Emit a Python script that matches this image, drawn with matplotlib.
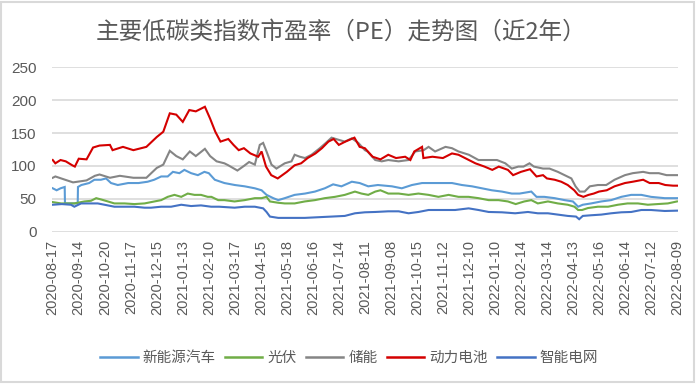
import matplotlib
matplotlib.use("Agg")
import matplotlib.pyplot as plt
from matplotlib.patches import Rectangle

plt.rcParams["font.family"] = ["Noto Sans CJK SC", "DejaVu Sans"]

TEXT = "#595959"
GRID = "#d9d9d9"

# x positions are in tick units (one tick = 20 trading days)
dates = ["2020-08-17", "2020-09-14", "2020-10-20", "2020-11-17", "2020-12-15",
         "2021-01-13", "2021-02-10", "2021-03-17", "2021-04-15", "2021-05-18",
         "2021-06-16", "2021-07-14", "2021-08-11", "2021-09-08", "2021-10-15",
         "2021-11-12", "2021-12-10", "2022-01-10", "2022-02-14", "2022-03-14",
         "2022-04-13", "2022-05-16", "2022-06-14", "2022-07-12", "2022-08-09"]

ev_t = [0, 0.15, 0.3, 0.46, 0.47, 0.7, 0.96, 0.97, 1.1, 1.4, 1.6, 1.85, 2.05, 2.24,
        2.5, 2.9, 3.3, 3.65, 3.9, 4.17, 4.42, 4.62, 4.87, 5.06, 5.32, 5.58, 5.83, 6.0,
        6.23, 6.6, 7.0, 7.38, 7.77, 8.03, 8.22, 8.48, 8.67, 8.92, 9.3, 9.7, 10.08,
        10.46, 10.78, 11.1, 11.5, 11.8, 12.13, 12.5, 13.04, 13.42, 13.81, 14.2, 14.6,
        15.0, 15.35, 15.73, 16.12, 16.5, 16.88, 17.27, 17.65, 17.95, 18.4, 18.6, 18.9,
        19.3, 19.68, 20.0, 20.2, 20.38, 20.7, 21.09, 21.47, 21.86, 22.24, 22.63, 23.0,
        23.53, 24.0]
ev_v = [66, 63, 66, 68, 43, 43, 43, 68, 71, 74, 79, 79, 81, 74,
        71, 74, 74, 76, 79, 84, 84, 91, 89, 94, 89, 86, 91, 89,
        79, 74, 71, 69, 66, 63, 56, 51, 48, 51, 56, 58, 61,
        66, 72, 69, 76, 74, 69, 71, 69, 66, 71, 74, 74,
        74, 74, 71, 69, 66, 63, 61, 58, 58, 61, 53, 53,
        51, 48, 46, 38, 41, 43, 46, 48, 53, 56, 56, 53,
        51, 51]

pv_t = [0, 0.32, 0.83, 1.22, 1.47, 1.67, 1.86, 2.12, 2.37, 2.76, 3.14, 3.53, 3.91,
        4.17, 4.42, 4.68, 4.94, 5.19, 5.45, 5.7, 5.96, 6.1, 6.36, 6.6, 6.99, 7.38,
        7.77, 8.03, 8.22, 8.35, 8.67, 8.92, 9.3, 9.69, 10.08, 10.46, 10.85, 11.23,
        11.62, 11.87, 12.13, 12.4, 12.6, 12.9, 13.3, 13.68, 14.06, 14.45, 14.83,
        15.22, 15.6, 15.99, 16.37, 16.76, 17.14, 17.5, 17.8, 18.13, 18.4, 18.65,
        19.04, 19.42, 19.8, 20.06, 20.2, 20.35, 20.58, 20.96, 21.35, 21.73, 22.1,
        22.5, 22.88, 23.25, 23.65, 24.0]
pv_v = [45, 43, 43, 46, 47, 51, 49, 46, 43, 43, 42, 43, 46,
        48, 53, 56, 53, 58, 56, 56, 53, 53, 48, 48, 46, 48,
        51, 51, 53, 46, 44, 43, 43, 46, 48, 51, 53, 56,
        61, 58, 56, 61, 63, 58, 58, 56, 58, 56, 53,
        56, 53, 53, 51, 48, 48, 46, 42, 46, 48, 43,
        46, 43, 41, 38, 33, 33, 36, 38, 38, 41, 43,
        43, 41, 42, 43, 46]

es_t = [0, 0.1, 0.4, 0.78, 1.3, 1.62, 1.8, 2.2, 2.58, 3.1, 3.6, 4.0, 4.25, 4.5, 4.75,
        5.0, 5.27, 5.5, 5.85, 6.05, 6.3, 6.6, 6.75, 7.1, 7.35, 7.55, 7.77, 7.96, 8.09,
        8.22, 8.41, 8.6, 8.92, 9.18, 9.3, 9.5, 9.7, 9.95, 10.27, 10.5, 10.72, 10.97,
        11.23, 11.5, 11.75, 12.0, 12.1, 12.4, 12.65, 12.9, 13.3, 13.68, 13.94, 14.26,
        14.45, 14.7, 15.1, 15.35, 15.6, 16.0, 16.37, 16.76, 17.08, 17.4, 17.65, 17.9,
        18.1, 18.33, 18.5, 18.85, 19.1, 19.42, 19.68, 19.94, 20.1, 20.26, 20.45, 20.65,
        20.96, 21.28, 21.6, 22.0, 22.3, 22.7, 22.95, 23.3, 23.6, 24.0]
es_v = [82, 84, 80, 75, 78, 85, 87, 82, 85, 82, 82, 97, 102, 123, 115,
        110, 122, 115, 126, 115, 107, 104, 101, 93, 100, 106, 102, 132, 135,
        122, 102, 96, 104, 107, 117, 114, 112, 117, 127, 135, 143, 140,
        137, 142, 135, 124, 122, 109, 107, 109, 107, 109, 122, 124,
        129, 122, 129, 127, 122, 117, 109, 109, 109, 104, 96, 99,
        99, 104, 99, 96, 96, 91, 86, 81, 69, 61, 61, 69,
        71, 71, 79, 86, 89, 91, 89, 89, 86, 86]

bat_t = [0, 0.1, 0.3, 0.5, 0.75, 0.85, 1.0, 1.3, 1.55, 1.8, 2.2, 2.3, 2.7, 3.1, 3.6,
         4.0, 4.25, 4.5, 4.75, 5.0, 5.25, 5.5, 5.85, 6.05, 6.25, 6.45, 6.75, 6.95,
         7.15, 7.35, 7.6, 7.9, 8.03, 8.2, 8.4, 8.65, 9.0, 9.3, 9.55, 9.8, 10.1, 10.35,
         10.6, 10.8, 11.0, 11.25, 11.6, 11.8, 12.0, 12.3, 12.6, 12.9, 13.2, 13.55,
         13.75, 13.9, 14.2, 14.25, 14.6, 15.0, 15.35, 15.6, 15.85, 16.25, 16.6, 16.9,
         17.15, 17.5, 17.7, 18.0, 18.35, 18.6, 18.85, 19.0, 19.3, 19.55, 19.8, 20.05,
         20.2, 20.4, 20.6, 20.8, 21.0, 21.3, 21.6, 22.0, 22.3, 22.7, 22.95, 23.3,
         23.55, 23.85, 24.0]
bat_v = [109, 104, 109, 107, 101, 99, 111, 110, 128, 131, 132, 124, 129, 124, 129,
         144, 152, 180, 178, 167, 185, 183, 190, 172, 152, 137, 141, 132,
         124, 127, 119, 114, 122, 99, 86, 81, 91, 101, 104, 112, 119, 127,
         137, 141, 132, 137, 143, 129, 127, 114, 110, 117, 112, 114,
         109, 122, 129, 112, 114, 112, 119, 117, 112, 104, 99, 94,
         99, 94, 86, 91, 95, 84, 86, 81, 79, 76, 71, 63,
         56, 53, 56, 58, 61, 63, 69, 74, 76, 79, 74, 74,
         71, 70, 70]

grid_t = [0, 0.35, 0.7, 0.83, 1.09, 1.35, 1.73, 1.99, 2.37, 2.76, 3.14, 3.53, 3.78,
          4.17, 4.55, 4.94, 5.32, 5.7, 6.09, 6.4, 6.99, 7.38, 7.77, 8.09, 8.22, 8.35,
          8.67, 9.18, 9.69, 10.2, 10.72, 11.23, 11.62, 12.0, 12.4, 12.9, 13.3, 13.68,
          14.06, 14.45, 14.96, 15.47, 15.99, 16.37, 16.76, 17.27, 17.78, 18.27, 18.65,
          19.04, 19.42, 19.8, 20.12, 20.24, 20.38, 20.7, 21.09, 21.47, 21.86, 22.24,
          22.63, 23.0, 23.53, 24.0]
grid_v = [41, 42, 41, 38, 43, 43, 43, 41, 38, 38, 38, 36.5, 36.5,
          38, 38, 41, 39, 40, 38, 38, 36.5, 38, 38, 35.5, 30, 23,
          21, 21, 21, 22, 23, 24, 28, 29.5, 30, 31, 31, 28,
          30, 33, 33, 33, 35.5, 33, 30, 29.5, 28, 30, 28,
          28, 26, 24, 23, 19, 24, 25, 26, 28, 29.5, 30,
          33, 33, 31.5, 32]

series = [
    ("新能源汽车", ev_t, ev_v, "#5b9bd5"),
    ("光伏", pv_t, pv_v, "#70ad47"),
    ("储能", es_t, es_v, "#858585"),
    ("动力电池", bat_t, bat_v, "#d40000"),
    ("智能电网", grid_t, grid_v, "#4472c4"),
]

fig = plt.figure(figsize=(7, 3.85), dpi=100)
W, H = 700, 385
ax = fig.add_axes([51.7 / W, 1 - 231.7 / H, (678 - 51.7) / W, (231.7 - 67.3) / H])

for name, t, v, c in series:
    ax.plot(t, v, color=c, lw=1.5, label=name, solid_joinstyle="miter")

ax.set_xlim(-0.04, 24.04)
ax.set_ylim(0, 250)
ax.set_yticks(range(0, 251, 50))
ax.set_xticks(range(len(dates)))
ax.set_xticklabels(dates, rotation=90, fontsize=10.5, color=TEXT,
                   family="Liberation Sans")
for lab in ax.get_yticklabels():
    lab.set_family("Liberation Sans")
ax.tick_params(axis="y", length=0, labelsize=11, labelcolor=TEXT, pad=11)
ax.tick_params(axis="x", length=0, pad=6)
ax.grid(axis="y", color=GRID, lw=1.2)
ax.set_axisbelow(True)
for s in ax.spines.values():
    s.set_visible(False)

fig.text(341 / W, 1 - 32 / H, "主要低碳类指数市盈率（PE）走势图（近2年）",
         ha="center", va="center", fontsize=17, color=TEXT, fontweight="light")

leg = fig.legend(loc="center", bbox_to_anchor=(349 / W, 1 - 358 / H), ncol=5,
                 frameon=False, fontsize=10.5, handlelength=2.6, handletextpad=0.35,
                 columnspacing=0.6, labelcolor=TEXT)
for h in leg.get_lines():
    h.set_linewidth(1.8)

fig.patches.append(Rectangle((1 / W, 1 - 382 / H), 693 / W, 380 / H,
                             transform=fig.transFigure, fill=False,
                             edgecolor=GRID, lw=1.5))

fig.savefig("out.png", dpi=100)
